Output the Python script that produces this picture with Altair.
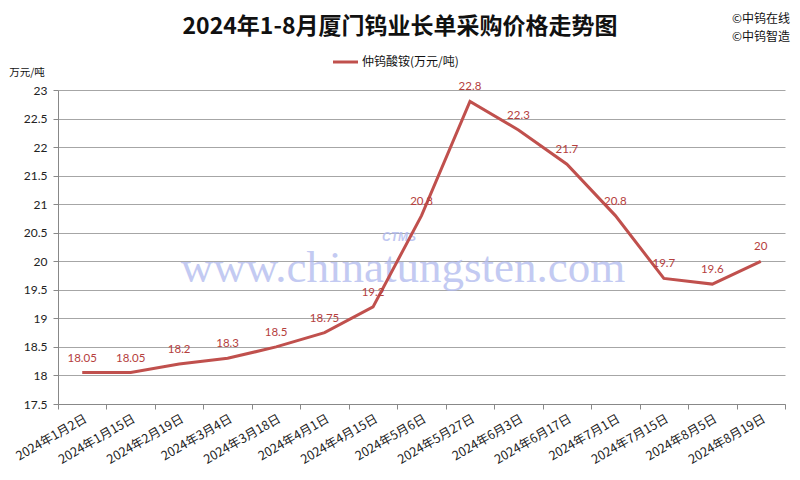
import altair as alt
import pandas as pd

dates = ["2024年1月2日", "2024年1月15日", "2024年2月19日", "2024年3月4日", "2024年3月18日",
         "2024年4月1日", "2024年4月15日", "2024年5月6日", "2024年5月27日", "2024年6月3日",
         "2024年6月17日", "2024年7月1日", "2024年7月15日", "2024年8月5日", "2024年8月19日"]
prices = [18.05, 18.05, 18.2, 18.3, 18.5, 18.75, 19.2, 20.8, 22.8, 22.3, 21.7, 20.8, 19.7, 19.6, 20]
y_ticks = [17.5, 18, 18.5, 19, 19.5, 20, 20.5, 21, 21.5, 22, 22.5, 23]

title_text = "2024年1-8月厦门钨业长单采购价格走势图"
series_name = "仲钨酸铵(万元/吨)"
unit_text = "万元/吨"
brand_lines = ["©中钨在线", "©中钨智造"]
watermark = "www.chinatungsten.com"

df = pd.DataFrame({"date": dates, "price": prices})
one = pd.DataFrame({"k": [0]})

W, H = 727, 314
RED = "#c0504d"
CJK = "Noto Sans CJK SC"

x_enc = alt.X("date:N", sort=dates, title=None,
              scale=alt.Scale(type="band", paddingInner=0, paddingOuter=0),
              axis=alt.Axis(labelAngle=330, labelAlign="right", labelBaseline="top",
                            labelFont=CJK, labelFontSize=12.5, labelColor="#222222",
                            tickBand="extent", tickSize=5, tickColor="#888888",
                            domainColor="#888888", grid=False, labelPadding=3,
                            labelOverlap=False))
y_enc = alt.Y("price:Q", title=None,
              scale=alt.Scale(domain=[17.5, 23], nice=False, zero=False),
              axis=alt.Axis(values=y_ticks, tickCount=len(y_ticks), format=".1~f",
                            labelFont="Lato", labelOverlap=False,
                            labelFontSize=12, labelColor="#222222", tickSize=5,
                            tickColor="#888888", domainColor="#888888",
                            gridColor="#a6a6a6", labelPadding=6))

base = alt.Chart(df)

wm = alt.Chart(one).mark_text(text=watermark, font="Liberation Serif", fontSize=45,
                              color="#b0b9ee", opacity=0.75, align="center",
                              baseline="alphabetic").encode(
    x=alt.value(345), y=alt.value(192))
wm_logo = alt.Chart(one).mark_text(text="CTMS", font="Liberation Sans", fontSize=12,
                                   fontStyle="italic", fontWeight="bold",
                                   color="#b0b9ee", opacity=0.8).encode(
    x=alt.value(341), y=alt.value(147))

line = base.mark_line(color=RED, strokeWidth=3).encode(x=x_enc, y=y_enc)
labels = base.mark_text(color="#b5403d", fontSize=11.5, font="Lato", dy=-14).encode(
    x=alt.X("date:N", sort=dates), y="price:Q",
    text=alt.Text("price:Q", format=".2~f"))

title = alt.Chart(one).mark_text(text=title_text, font=CJK, fontSize=23, fontWeight="bold",
                                 color="#111111", align="center", baseline="middle").encode(
    x=alt.value(342), y=alt.value(-63))
brand1 = alt.Chart(one).mark_text(text=brand_lines[0], font=CJK, fontSize=12,
                                  color="#111111", align="right", baseline="middle").encode(
    x=alt.value(732), y=alt.value(-71))
brand2 = alt.Chart(one).mark_text(text=brand_lines[1], font=CJK, fontSize=12,
                                  color="#111111", align="right", baseline="middle").encode(
    x=alt.value(732), y=alt.value(-53))
leg_line = alt.Chart(one).mark_rule(color=RED, strokeWidth=3).encode(
    x=alt.value(275), x2=alt.value(300), y=alt.value(-28))
leg_text = alt.Chart(one).mark_text(text=series_name, font=CJK, fontSize=12,
                                    color="#111111", align="left", baseline="middle").encode(
    x=alt.value(304), y=alt.value(-28))
unit = alt.Chart(one).mark_text(text=unit_text, font=CJK, fontSize=10.5,
                                color="#111111", align="center", baseline="middle").encode(
    x=alt.value(-31), y=alt.value(-17))

chart = alt.layer(wm, wm_logo, line, labels, title, brand1, brand2, leg_line, leg_text, unit).properties(
    width=W, height=H,
    autosize=alt.AutoSizeParams(type="none"),
    padding={"left": 50, "top": 82, "right": 7, "bottom": 68},
    background="white",
).configure_view(stroke=None)

chart.save("out.html", embed_options={"renderer": "svg", "actions": False})
